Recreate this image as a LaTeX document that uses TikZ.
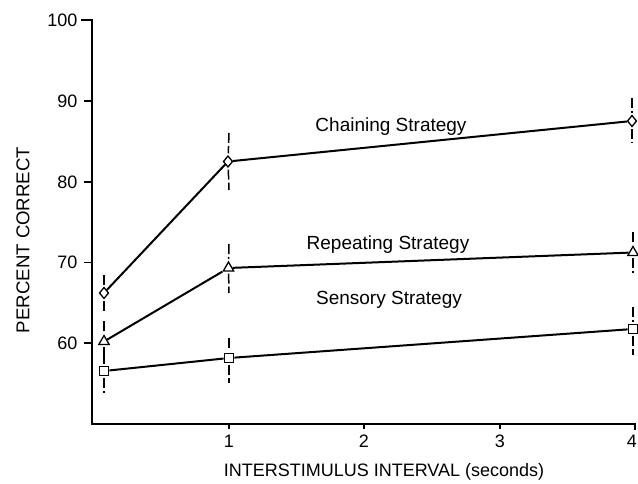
\documentclass[tikz,border=0pt]{standalone}
\usepackage{fontspec}
\setmainfont{Liberation Sans}
\usetikzlibrary{shapes.geometric}
\begin{document}
\begin{tikzpicture}[x=1pt,y=-1pt,
  axis/.style={line width=2pt,line cap=rect},
  dline/.style={line width=2pt},
  ebar/.style={line width=1.5pt,dash pattern=on 10pt off 3pt},
  dmd/.style={diamond,draw,fill=white,inner sep=0pt,minimum width=9.5pt,minimum height=11.5pt,line width=1.3pt},
  tri/.style={regular polygon,regular polygon sides=3,draw,fill=white,inner sep=0pt,minimum size=12pt,line width=1.3pt},
  sqr/.style={rectangle,draw,fill=white,inner sep=0pt,minimum size=9.5pt,line width=1.3pt},
  lbl/.style={font=\fontsize{19}{21}\selectfont,inner sep=0pt},
  ylbl/.style={font=\fontsize{18.6}{21}\selectfont,inner sep=0pt},
  tlbl/.style={font=\fontsize{18}{20}\selectfont,inner sep=0pt}]
\useasboundingbox (0,0) rectangle (638,484);
% axes
\coordinate (ytop) at (92,20.5);
\coordinate (orig) at (92,423.5);
\coordinate (xend) at (635,423.5);
\draw[axis] (82,20.5) -- (ytop) -- (orig) -- (xend) -- (635,429);
% y ticks
\foreach \v/\yy in {90/101.2,80/182,70/262.5,60/343}{
  \draw[line width=1.7pt] (84,\yy) -- (92,\yy);
}
\foreach \v/\yy in {100/20.5,90/101.2,80/182,70/262.5,60/343}{
  \node[tlbl,anchor=east] (yl\v) at (77.5,\yy) {\v};
}
% x ticks
\foreach \xx in {229,364,500}{
  \draw[line width=1.5pt] (\xx,423.5) -- (\xx,429);
}
\foreach \n/\xx in {1/229,2/364,3/500,4/632}{
  \node[tlbl,anchor=base] (xl\n) at (\xx,447.5) {\n};
}
% axis titles
\node[tlbl,anchor=base] (xtitle) at (384,476) {INTERSTIMULUS INTERVAL (seconds)};
\node[ylbl,rotate=90] (ytitle) at (23,240) {PERCENT CORRECT};
% error bar ends
\coordinate (c0t) at (104,275); \coordinate (c0b) at (104,313);
\coordinate (r0t) at (104,321); \coordinate (r0b) at (104,357);
\coordinate (s0t) at (104,356); \coordinate (s0b) at (104,393);
\coordinate (c1t) at (229,133); \coordinate (c1b) at (229,190);
\coordinate (r1t) at (229,244); \coordinate (r1b) at (229,293);
\coordinate (s1t) at (229,338); \coordinate (s1b) at (229,383);
\coordinate (c4t) at (632,98);  \coordinate (c4b) at (632,143);
\coordinate (r4t) at (633,232); \coordinate (r4b) at (633,273);
\coordinate (s4t) at (633,307); \coordinate (s4b) at (633,355);
% markers
\node[dmd] (c0) at (104,293) {};
\node[dmd] (c1) at (228,161.5) {};
\node[dmd] (c4) at (632,121) {};
\node[tri] (r0) at (104,341.5) {};
\node[tri] (r1) at (228.5,268) {};
\node[tri] (r4) at (633,252.5) {};
\node[sqr] (s0) at (104,371) {};
\node[sqr] (s1) at (229,358) {};
\node[sqr] (s4) at (633,329) {};
% error bars
\foreach \p in {c0,r0,s0,c1,r1,s1,c4,r4,s4}{
  \draw[ebar,shorten >=2pt] (\p t) -- (\p);
  \draw[ebar,shorten <=2pt] (\p) -- (\p b);
}
% data lines
\draw[dline] (c0) -- (c1) -- (c4);
\draw[dline] (r0) -- (r1) -- (r4);
\draw[dline] (s0) -- (s1) -- (s4);
% labels
\node[lbl,anchor=base] (lc) at (391,132) {Chaining Strategy};
\node[lbl,anchor=base] (lr) at (388,250) {Repeating Strategy};
\node[lbl,anchor=base] (ls) at (389,304) {Sensory Strategy};
\end{tikzpicture}
\end{document}
